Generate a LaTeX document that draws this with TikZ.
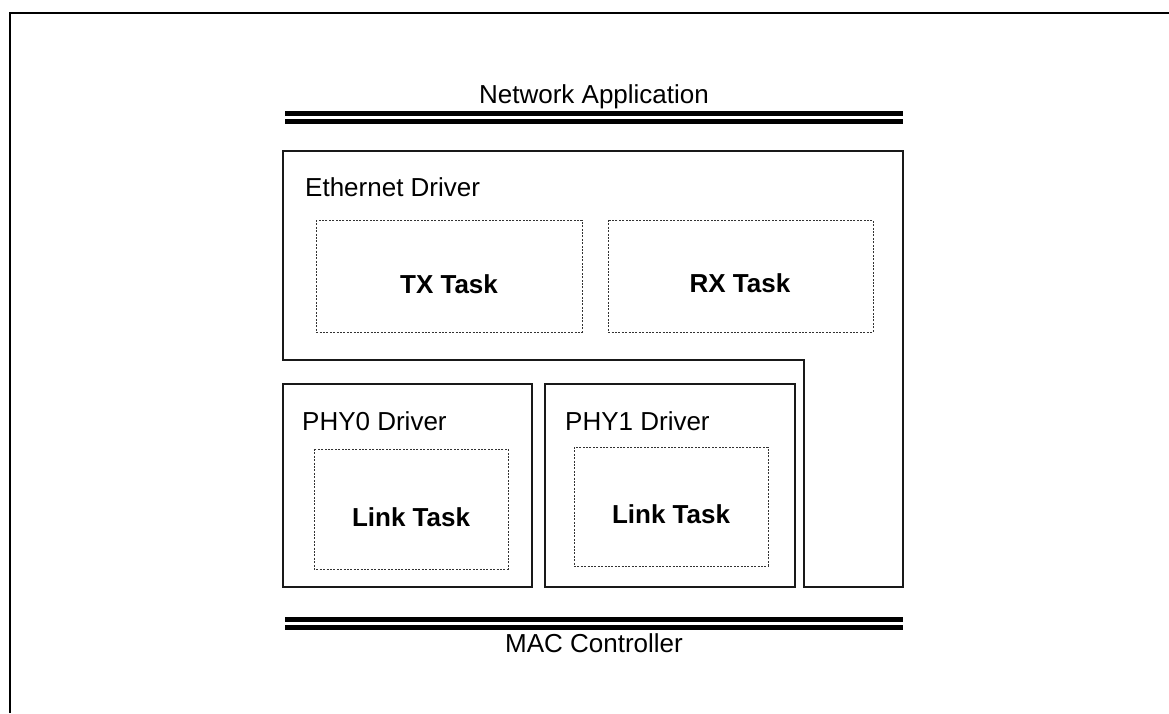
\documentclass[tikz,border=0pt]{standalone}
\usepackage{fontspec}
\setmainfont{Liberation Sans}
\begin{document}
\begin{tikzpicture}[x=1pt,y=-1pt,
  solidbox/.style={draw=black!90,line width=1.1pt},
  dashbox/.style={draw=black!80,line width=1pt,dash pattern=on 2pt off 1.4pt},
  busline/.style={line width=4.3pt,black},
  lbl/.style={inner sep=0pt,font=\fontsize{26}{30}\selectfont},
  blbl/.style={inner sep=0pt,font=\fontsize{26}{30}\selectfont\bfseries}]
\useasboundingbox (0,0) rectangle (1169,713);
\fill[white] (0,0) rectangle (1169,713);
% outer frame (partially visible)
\coordinate (fbl) at (10.2,713);
\coordinate (ftl) at (10.2,12.5);
\coordinate (ftr) at (1169,12.5);
\draw[line width=2pt] (fbl) -- (ftl) -- (ftr);
% top bus
\coordinate (t1a) at (285,113.5); \coordinate (t1b) at (903,113.5);
\coordinate (t2a) at (285,121.5); \coordinate (t2b) at (903,121.5);
\draw[busline] (t1a) -- (t1b);
\draw[busline] (t2a) -- (t2b);
\node[lbl] (netapp) at (594,97) {Network Application};
% Ethernet driver L-shape
\draw[solidbox] (283,151) -- (903,151) -- (903,587) -- (804,587) -- (804,360) -- (283,360) -- cycle;
\node[lbl,anchor=west] (eth) at (305,187) {Ethernet Driver};
\draw[dashbox] (316,220) rectangle (582,332);
\node[blbl] (tx) at (449,284) {TX Task};
\draw[dashbox] (608,220) rectangle (873,332);
\node[blbl] (rx) at (740,283) {RX Task};
% PHY0
\draw[solidbox] (283,384) rectangle (532,587);
\node[lbl,anchor=west] (phy0) at (302,421) {PHY0 Driver};
\draw[dashbox] (314,449) rectangle (508,569);
\node[blbl] (link0) at (411,517) {Link Task};
% PHY1
\draw[solidbox] (545,384) rectangle (795,587);
\node[lbl,anchor=west] (phy1) at (565,421) {PHY1 Driver};
\draw[dashbox] (574,447) rectangle (768,566);
\node[blbl] (link1) at (671,514) {Link Task};
% bottom bus
\coordinate (b1a) at (285,619.5); \coordinate (b1b) at (903,619.5);
\coordinate (b2a) at (285,627.5); \coordinate (b2b) at (903,627.5);
\draw[busline] (b1a) -- (b1b);
\draw[busline] (b2a) -- (b2b);
\node[lbl] (mac) at (594,643) {MAC Controller};
\end{tikzpicture}
\end{document}
